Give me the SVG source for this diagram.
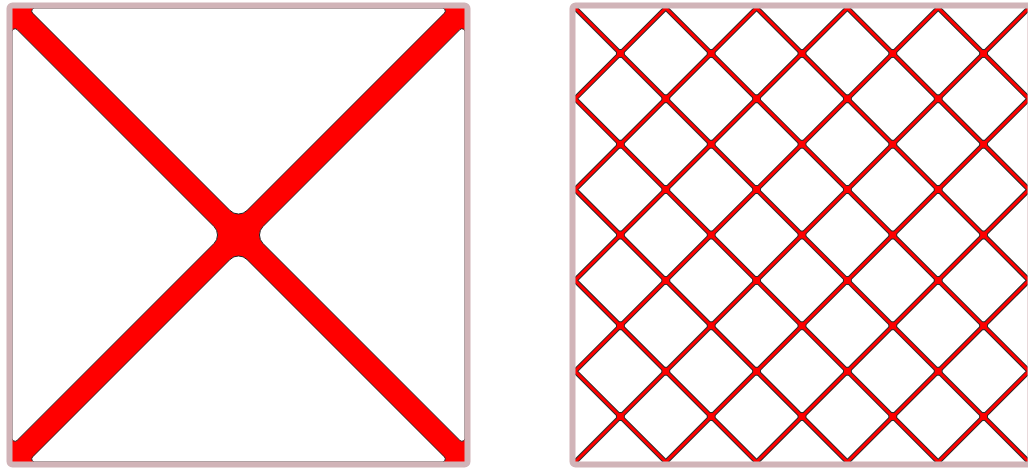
<svg xmlns="http://www.w3.org/2000/svg" width="1028" height="468" viewBox="0 0 1028 468">
  <style>
    .frame { fill: none; stroke: #d1b4b8; stroke-width: 6; }
    .gap { fill: #ffffff; stroke: #222222; stroke-width: 1; }
    .lat-o { fill: none; stroke: #2a2a2a; stroke-width: 5; }
    .lat-i { fill: none; stroke: #ff0000; stroke-width: 3; }
    .node-o { fill: none; stroke: #2a2a2a; stroke-width: 9; stroke-linecap: round; }
    .node-i { fill: none; stroke: #ff0000; stroke-width: 7; stroke-linecap: round; }
  </style>
  <defs>
    <clipPath id="clipL"><rect x="12" y="8" width="453" height="454"/></clipPath>
    <clipPath id="clipR"><rect x="575" y="8" width="460" height="454"/></clipPath>
  </defs>
  <rect width="1028" height="468" fill="#ffffff"/>

  <g id="left-panel">
    <g clip-path="url(#clipL)">
      <rect x="12" y="8" width="453" height="454" fill="#ff0000"/>
      <path id="gap-top" class="gap" d="M34.74,8 L442.26,8 A3,3 0 0 1 444.38,13.12 L246.99,210.51 A12,12 0 0 1 230.01,210.51 L32.62,13.12 A3,3 0 0 1 34.74,8 Z"/>
      <path id="gap-left" class="gap" d="M12,438.26 L12,31.74 A3,3 0 0 1 17.12,29.62 L214.01,226.51 A12,12 0 0 1 214.01,243.49 L17.12,440.38 A3,3 0 0 1 12,438.26 Z"/>
      <path id="gap-right" class="gap" d="M465,31.74 L465,438.26 A3,3 0 0 1 459.88,440.38 L262.99,243.49 A12,12 0 0 1 262.99,226.51 L459.88,29.62 A3,3 0 0 1 465,31.74 Z"/>
      <path id="gap-bottom" class="gap" d="M442.26,462 L34.74,462 A3,3 0 0 1 32.62,456.88 L230.01,259.49 A12,12 0 0 1 246.99,259.49 L444.38,456.88 A3,3 0 0 1 442.26,462 Z"/>
    </g>
    <rect id="frame-left" class="frame" x="9.5" y="5.5" width="458" height="459" rx="3"/>
  </g>

  <g id="right-panel">
    <g clip-path="url(#clipR)">
      <path id="lattice-outline" class="lat-o" d="M53,-60L653,540M143.8,-60L743.8,540M234.6,-60L834.6,540M325.4,-60L925.4,540M416.2,-60L1016.2,540M507,-60L1107,540M597.8,-60L1197.8,540M688.6,-60L1288.6,540M779.4,-60L1379.4,540M870.2,-60L1470.2,540M961,-60L1561,540M643,-60L43,540M733.8,-60L133.8,540M824.6,-60L224.6,540M915.4,-60L315.4,540M1006.2,-60L406.2,540M1097,-60L497,540M1187.8,-60L587.8,540M1278.6,-60L678.6,540M1369.4,-60L769.4,540M1460.2,-60L860.2,540M1551,-60L951,540"/>
      <path id="nodes-outline" class="node-o" d="M620.4,53.4h0M711.2,53.4h0M802,53.4h0M892.8,53.4h0M983.6,53.4h0M620.4,144.2h0M711.2,144.2h0M802,144.2h0M892.8,144.2h0M983.6,144.2h0M620.4,235h0M711.2,235h0M802,235h0M892.8,235h0M983.6,235h0M620.4,325.8h0M711.2,325.8h0M802,325.8h0M892.8,325.8h0M983.6,325.8h0M620.4,416.6h0M711.2,416.6h0M802,416.6h0M892.8,416.6h0M983.6,416.6h0M665.8,98.8h0M756.6,98.8h0M847.4,98.8h0M938.2,98.8h0M665.8,189.6h0M756.6,189.6h0M847.4,189.6h0M938.2,189.6h0M665.8,280.4h0M756.6,280.4h0M847.4,280.4h0M938.2,280.4h0M665.8,371.2h0M756.6,371.2h0M847.4,371.2h0M938.2,371.2h0"/>
      <path id="lattice" class="lat-i" d="M53,-60L653,540M143.8,-60L743.8,540M234.6,-60L834.6,540M325.4,-60L925.4,540M416.2,-60L1016.2,540M507,-60L1107,540M597.8,-60L1197.8,540M688.6,-60L1288.6,540M779.4,-60L1379.4,540M870.2,-60L1470.2,540M961,-60L1561,540M643,-60L43,540M733.8,-60L133.8,540M824.6,-60L224.6,540M915.4,-60L315.4,540M1006.2,-60L406.2,540M1097,-60L497,540M1187.8,-60L587.8,540M1278.6,-60L678.6,540M1369.4,-60L769.4,540M1460.2,-60L860.2,540M1551,-60L951,540"/>
      <path id="nodes" class="node-i" d="M620.4,53.4h0M711.2,53.4h0M802,53.4h0M892.8,53.4h0M983.6,53.4h0M620.4,144.2h0M711.2,144.2h0M802,144.2h0M892.8,144.2h0M983.6,144.2h0M620.4,235h0M711.2,235h0M802,235h0M892.8,235h0M983.6,235h0M620.4,325.8h0M711.2,325.8h0M802,325.8h0M892.8,325.8h0M983.6,325.8h0M620.4,416.6h0M711.2,416.6h0M802,416.6h0M892.8,416.6h0M983.6,416.6h0M665.8,98.8h0M756.6,98.8h0M847.4,98.8h0M938.2,98.8h0M665.8,189.6h0M756.6,189.6h0M847.4,189.6h0M938.2,189.6h0M665.8,280.4h0M756.6,280.4h0M847.4,280.4h0M938.2,280.4h0M665.8,371.2h0M756.6,371.2h0M847.4,371.2h0M938.2,371.2h0"/>
    </g>
    <rect id="frame-right" class="frame" x="572.5" y="5.5" width="458" height="459" rx="3"/>
  </g>
</svg>
